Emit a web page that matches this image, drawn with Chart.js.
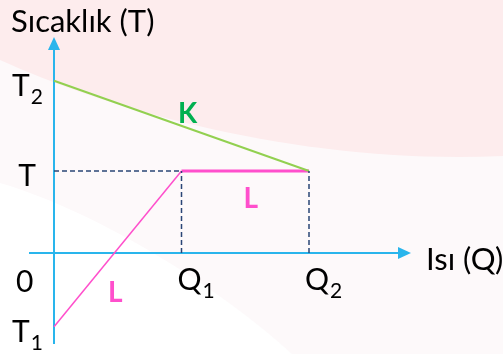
<!DOCTYPE html>
<html>
<head>
<meta charset="utf-8">
<script src="https://cdn.jsdelivr.net/npm/chart.js@4"></script>
<style>
  html, body { margin: 0; padding: 0; background: #ffffff; }
  #wrap { width: 503px; height: 354px; position: relative; }
</style>
</head>
<body>
<div id="wrap"><canvas id="phaseChart"></canvas></div>
<script>
"use strict"
// heat (Q) vs temperature (T) diagram, values in relative units

// x axis: heat
var heatValues = [0, 1, 2];            // 0, Q1, Q2
var heatLabels = ["0", "Q1", "Q2"];
// y axis: temperature
var tempValues = [-0.9, 1, 2.1];       // T1, T, T2
var tempLabels = ["T1", "T", "T2"];

// K: cools from T2 down to T while heat goes 0 -> Q2
var heatK = [0, 2];
var tempK = [2.1, 1];
// L: warms from T1 to T (0 -> Q1), then stays at T (Q1 -> Q2)
var heatL = [0, 1, 2];
var tempL = [-0.9, 1, 1];

var axisColor = "#29b5ec";
var kColor = "#92d050";
var lColor = "#ff4fcc";
var guideColor = "#2a4576";

function pts(xs, ys) {
  return xs.map(function(x, i) { return {x: x, y: ys[i]}; });
}

// dashed guides from T to Q1, and down from T to the heat axis
var guides = [
  pts([heatValues[0], heatValues[1]], [tempValues[1], tempValues[1]]),
  pts([heatValues[1], heatValues[1]], [0, tempValues[1]]),
  pts([heatValues[2], heatValues[2]], [0, tempValues[1]])
];

var FONT = "Lato, 'Open Sans', sans-serif";

function drawSub(ctx, main, sub, x, y, size, align) {
  var subSize = Math.round(size * 0.7);
  ctx.font = size + "px " + FONT;
  var wm = ctx.measureText(main).width;
  ctx.font = subSize + "px " + FONT;
  var ws = sub ? ctx.measureText(sub).width : 0;
  var left = x;
  if (align === "center") left = x - (wm + ws) / 2;
  ctx.textAlign = "left";
  ctx.textBaseline = "alphabetic";
  ctx.font = size + "px " + FONT;
  ctx.fillText(main, left, y);
  if (sub) {
    ctx.font = subSize + "px " + FONT;
    ctx.fillText(sub, left + wm + 1, y + 8);
  }
}

var backdrop = {//soft pink slide background
  id: "backdrop",
  beforeDraw: function(chart) {
    var ctx = chart.ctx, w = chart.width, h = chart.height;
    ctx.save();
    ctx.fillStyle = "#fdf9fa";
    ctx.fillRect(0, 0, w, h);
    ctx.fillStyle = "#ffffff";
    ctx.beginPath();
    ctx.moveTo(0, 183);
    ctx.bezierCurveTo(100, 212, 225, 292, 292, h);
    ctx.lineTo(0, h);
    ctx.closePath();
    ctx.fill();
    ctx.fillStyle = "#fdeced";
    ctx.beginPath();
    ctx.moveTo(0, 0);
    ctx.lineTo(0, 60);
    ctx.bezierCurveTo(110, 110, 300, 165, w, 156);
    ctx.lineTo(w, 0);
    ctx.closePath();
    ctx.fill();
    ctx.restore();
  }
};

var axesAndText = {//arrow axes plus labels
  id: "axesAndText",
  beforeDatasetsDraw: function(chart) {
    var ctx = chart.ctx, sx = chart.scales.x, sy = chart.scales.y;
    var ox = sx.getPixelForValue(0), oy = sy.getPixelForValue(0);
    ctx.save();
    ctx.strokeStyle = axisColor;
    ctx.fillStyle = axisColor;
    ctx.lineWidth = 2;
    // heat axis
    ctx.beginPath();
    ctx.moveTo(29, oy);
    ctx.lineTo(400, oy);
    ctx.stroke();
    ctx.beginPath();
    ctx.moveTo(411, oy);
    ctx.lineTo(398, oy - 6);
    ctx.lineTo(398, oy + 6);
    ctx.closePath();
    ctx.fill();
    // temperature axis
    ctx.beginPath();
    ctx.moveTo(ox, 344);
    ctx.lineTo(ox, 48);
    ctx.stroke();
    ctx.beginPath();
    ctx.moveTo(ox, 37);
    ctx.lineTo(ox - 6, 50);
    ctx.lineTo(ox + 6, 50);
    ctx.closePath();
    ctx.fill();
    ctx.restore();
  },
  afterDatasetsDraw: function(chart) {
    var ctx = chart.ctx, sx = chart.scales.x, sy = chart.scales.y;
    var ox = sx.getPixelForValue(0), oy = sy.getPixelForValue(0);
    ctx.save();
    ctx.fillStyle = "#000000";
    drawSub(ctx, "Sıcaklık (T)", "", 11, 32, 31, "left");
    drawSub(ctx, "Isı (Q)", "", 426, oy + 17, 31, "left");
    // temperature ticks
    tempLabels.forEach(function(lab, i) {
      var py = sy.getPixelForValue(tempValues[i]);
      drawSub(ctx, lab.charAt(0), lab.slice(1), 27, py + 15, 30, "center");
    });
    // heat ticks
    heatLabels.forEach(function(lab, i) {
      var px = sx.getPixelForValue(heatValues[i]);
      if (heatValues[i] === 0) {
        drawSub(ctx, lab, "", 16, oy + 39, 30, "left");
      } else {
        drawSub(ctx, lab.charAt(0), lab.slice(1), px - 4, oy + 37, 30, "left");
      }
    });
    // curve names
    ctx.font = "bold 28px " + FONT;
    ctx.textAlign = "left";
    ctx.fillStyle = "#00b050";
    ctx.fillText("K", sx.getPixelForValue(heatK[0]) + 124, sy.getPixelForValue(tempK[0]) + 42);
    ctx.fillStyle = lColor;
    ctx.fillText("L", sx.getPixelForValue(heatL[1]) + 62, sy.getPixelForValue(tempL[1]) + 37);
    ctx.fillText("L", sx.getPixelForValue(heatL[0]) + 54, oy + 49);
    ctx.restore();
  }
};

var lineSets = guides.map(function(g) {
  return {
    data: g,
    showLine: true,
    borderColor: guideColor,
    borderWidth: 1.5,
    borderDash: [5, 3],
    pointRadius: 0
  };
});
lineSets.push({//K line
  data: pts(heatK, tempK),
  showLine: true,
  borderColor: kColor,
  borderWidth: 2,
  pointRadius: 0
});
lineSets.push({//L line, thin while warming, thick at constant T
  data: pts(heatL, tempL),
  showLine: true,
  borderColor: lColor,
  borderWidth: 2,
  segment: {
    borderWidth: function(c) { return c.p0DataIndex === 0 ? 1.5 : 3; }
  },
  pointRadius: 0
});

var chart = new Chart(document.getElementById("phaseChart"), {
  type: "scatter",
  data: { datasets: lineSets },
  options: {
    responsive: true,
    maintainAspectRatio: false,
    animation: false,
    layout: { padding: 0 },
    plugins: {
      legend: { display: false },
      tooltip: { enabled: false }
    },
    scales: {
      x: { type: "linear", display: false, min: -54 / 127.5, max: 449 / 127.5 },
      y: { type: "linear", display: false, min: -101 / 82, max: 253 / 82 }
    }
  },
  plugins: [backdrop, axesAndText]
});
</script>
</body>
</html>
